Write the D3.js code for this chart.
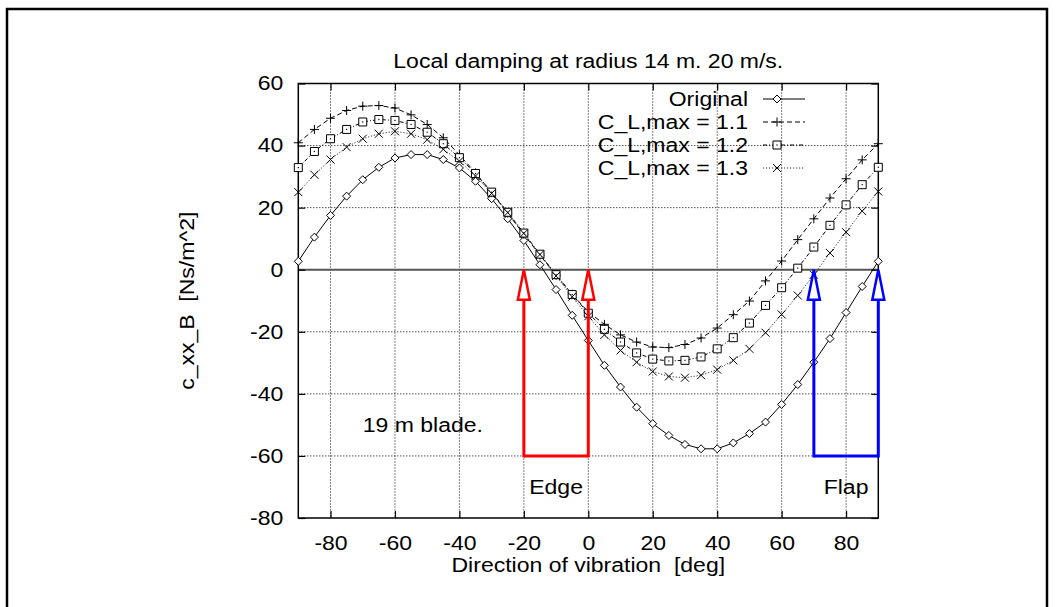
<!DOCTYPE html>
<html>
<head>
<meta charset="utf-8">
<script src="https://cdn.jsdelivr.net/npm/d3@7"></script>
<style>
  html, body { margin: 0; padding: 0; background: #fff; }
  svg { display: block; }
  text { font-family: "Liberation Sans", Arial, Helvetica, sans-serif; fill: #000; }
</style>
</head>
<body>
<script>
const width = 1056;
const height = 607;

// direction of vibration [deg]
const angles = [-90, -85, -80, -75, -70, -65, -60, -55, -50, -45, -40, -35, -30, -25, -20, -15, -10, -5,
  0, 5, 10, 15, 20, 25, 30, 35, 40, 45, 50, 55, 60, 65, 70, 75, 80, 85, 90];

// c_xx_B [Ns/m^2]
const original = [2.7, 10.5, 17.5, 23.7, 29.0, 33.0, 36.0, 37.1, 37.1, 35.5, 32.8, 28.5, 22.9, 16.4, 9.4, 1.6, -6.4, -14.7,
  -22.8, -30.8, -37.8, -44.3, -49.6, -53.4, -56.3, -57.7, -57.7, -55.8, -52.8, -49.1, -43.4, -37.0, -29.8, -22.2, -13.8, -5.4, 2.7];
const clmax11 = [40.9, 45.2, 48.8, 51.3, 52.7, 52.9, 52.1, 49.9, 46.8, 42.5, 37.0, 31.2, 24.8, 18.2, 11.4, 4.7, -1.8, -7.9,
  -13.6, -17.6, -21.0, -23.3, -24.9, -25.1, -24.1, -22.0, -18.8, -14.5, -10.1, -3.6, 2.8, 9.7, 16.4, 23.1, 29.3, 35.4, 40.6];
const clmax12 = [32.9, 38.1, 42.2, 45.2, 47.6, 48.4, 48.1, 46.8, 44.3, 40.6, 36.1, 31.0, 25.0, 18.5, 11.8, 5.0, -1.6, -8.0,
  -14.0, -19.2, -23.3, -26.8, -28.8, -29.4, -29.2, -28.1, -25.5, -21.9, -17.2, -11.5, -5.8, 0.5, 7.3, 14.3, 20.9, 27.4, 33.0];
const clmax13 = [25.0, 30.6, 35.5, 39.5, 42.2, 43.8, 44.6, 43.8, 41.9, 38.8, 35.0, 30.2, 24.6, 18.4, 11.7, 4.9, -2.0, -8.7,
  -15.0, -21.0, -26.0, -29.8, -32.8, -34.4, -34.8, -34.0, -32.2, -29.2, -25.5, -20.3, -14.4, -8.3, -1.6, 5.4, 12.1, 18.9, 25.2];

const seriesNames = ["Original", "C_L,max = 1.1", "C_L,max = 1.2", "C_L,max = 1.3"];
const xTicks = [-80, -60, -40, -20, 0, 20, 40, 60, 80];
const yTicks = [-80, -60, -40, -20, 0, 20, 40, 60];

// arrows: [x, yFrom, yTo]
const edgeArrows = [[-20, -60, 0], [0, -60, 0]];
const flapArrows = [[70, -60, 0], [90, -60, 0]];

const series = [
  { name: seriesNames[0], values: original, dash: null, stroke: "#000", marker: "diamond" },
  { name: seriesNames[1], values: clmax11, dash: "5,3", stroke: "#000", marker: "plus" },
  { name: seriesNames[2], values: clmax12, dash: "4,2,1,2", stroke: "#000", marker: "square" },
  { name: seriesNames[3], values: clmax13, dash: "1.2,1.8", stroke: "#333", marker: "cross" }
];

const plotL = 298.3, plotR = 878.3, plotT = 83.5, plotB = 518;

const x = d3.scaleLinear().domain([-90, 90]).range([plotL, plotR]);
const y = d3.scaleLinear().domain([-80, 60]).range([plotB, plotT]);

const svg = d3.select("body").append("svg")
  .attr("width", width)
  .attr("height", height);

// gnuplot's font looks wider than Liberation Sans: stretch glyphs a bit
const fontSize = "20px";
function stretch(sel) {
  sel.each(function () {
    const w = this.getComputedTextLength();
    if (w > 0) d3.select(this).attr("textLength", w * 1.15).attr("lengthAdjust", "spacingAndGlyphs");
  });
}

// outer frame of the page
svg.append("path")
  .attr("d", `M7,${height} L7,9 L1047,9 L1047,${height}`)
  .attr("fill", "none")
  .attr("stroke", "#000")
  .attr("stroke-width", 2.5);

const g = svg.append("g");

// grid
g.append("g").selectAll("line")
  .data(xTicks)
  .join("line")
  .attr("x1", d => x(d)).attr("x2", d => x(d))
  .attr("y1", plotT).attr("y2", plotB)
  .attr("stroke", "#000")
  .attr("stroke-width", 1)
  .attr("stroke-dasharray", "1,2");

g.append("g").selectAll("line")
  .data(yTicks.filter(d => d !== 0 && d > -80 && d < 60))
  .join("line")
  .attr("x1", plotL).attr("x2", plotR)
  .attr("y1", d => y(d)).attr("y2", d => y(d))
  .attr("stroke", "#000")
  .attr("stroke-width", 1)
  .attr("stroke-dasharray", "1,2");

// zero axis
g.append("line")
  .attr("x1", plotL).attr("x2", plotR)
  .attr("y1", y(0)).attr("y2", y(0))
  .attr("stroke", "#555")
  .attr("stroke-width", 2);

// axes with inward ticks, plain hyphen minus like gnuplot
const fmt = d => String(d);
const ax = g.append("g").attr("transform", `translate(0,${plotB})`)
  .call(d3.axisBottom(x).tickValues(xTicks).tickFormat(fmt).tickSize(-7).tickPadding(17.5));
const ay = g.append("g").attr("transform", `translate(${plotL},0)`)
  .call(d3.axisLeft(y).tickValues(yTicks).tickFormat(fmt).tickSize(-7).tickPadding(15));
const axTop = g.append("g").attr("transform", `translate(0,${plotT})`)
  .call(d3.axisTop(x).tickValues(xTicks).tickSize(-7).tickFormat(""));
const ayRight = g.append("g").attr("transform", `translate(${plotR},0)`)
  .call(d3.axisRight(y).tickValues(yTicks).tickSize(-7).tickFormat(""));

[ax, ay, axTop, ayRight].forEach(a => {
  a.select(".domain").remove();
  a.selectAll(".tick line").attr("stroke", "#000").attr("stroke-width", 1.2);
  a.selectAll("text").attr("font-size", fontSize).attr("font-family", "Liberation Sans, Arial, sans-serif").attr("fill", "#000");
});
stretch(ax.selectAll("text"));
stretch(ay.selectAll("text"));

// plot box
g.append("rect")
  .attr("x", plotL).attr("y", plotT)
  .attr("width", plotR - plotL).attr("height", plotB - plotT)
  .attr("fill", "none")
  .attr("stroke", "#000")
  .attr("stroke-width", 1.5);

// markers
function markerPath(type) {
  switch (type) {
    case "diamond": return "M0,-4L4,0L0,4L-4,0Z";
    case "plus": return "M-4.5,0L4.5,0M0,-4.5L0,4.5";
    case "square": return "M-4,-4L4,-4L4,4L-4,4Z";
    case "cross": return "M-4,-4L4,4M-4,4L4,-4";
  }
}

const line = d3.line()
  .x(d => x(d[0]))
  .y(d => y(d[1]));

series.forEach(s => {
  const pts = angles.map((a, i) => [a, s.values[i]]);
  const sg = g.append("g");
  sg.append("path")
    .datum(pts)
    .attr("d", line)
    .attr("fill", "none")
    .attr("stroke", s.stroke)
    .attr("stroke-width", 1)
    .attr("stroke-dasharray", s.dash);
  const marks = sg.selectAll(".pt")
    .data(pts)
    .join("g")
    .attr("transform", d => `translate(${x(d[0])},${y(d[1])})`);
  marks.append("path")
    .attr("d", markerPath(s.marker))
    .attr("fill", (s.marker === "diamond" || s.marker === "square") ? "#fff" : "none")
    .attr("stroke", "#000")
    .attr("stroke-width", 1);
  if (s.marker === "square") {
    marks.append("rect").attr("x", -0.6).attr("y", -0.6).attr("width", 1.2).attr("height", 1.2).attr("fill", "#000");
  }
});

// legend
const legend = g.append("g");
series.forEach((s, i) => {
  const ly = 99 + i * 23;
  legend.append("text")
    .attr("x", 748).attr("y", ly)
    .attr("dy", "0.35em")
    .attr("text-anchor", "end")
    .attr("font-size", fontSize)
    .text(s.name)
    .call(stretch);
  legend.append("line")
    .attr("x1", 763).attr("x2", 805)
    .attr("y1", ly).attr("y2", ly)
    .attr("stroke", s.stroke)
    .attr("stroke-width", 1)
    .attr("stroke-dasharray", s.dash);
  const m = legend.append("g").attr("transform", `translate(777,${ly})`);
  m.append("path")
    .attr("d", markerPath(s.marker))
    .attr("fill", (s.marker === "diamond" || s.marker === "square") ? "#fff" : "none")
    .attr("stroke", "#000");
  if (s.marker === "square") {
    m.append("rect").attr("x", -0.6).attr("y", -0.6).attr("width", 1.2).attr("height", 1.2).attr("fill", "#000");
  }
});

// arrows with empty heads
function drawArrows(list, color) {
  const ag = g.append("g");
  const xs = list.map(d => d[0]);
  ag.append("line")
    .attr("x1", x(d3.min(xs))).attr("x2", x(d3.max(xs)))
    .attr("y1", y(list[0][1])).attr("y2", y(list[0][1]))
    .attr("stroke", color).attr("stroke-width", 3);
  list.forEach(a => {
    const px = x(a[0]);
    const tip = y(a[2]);
    const base = tip + 30;
    ag.append("line")
      .attr("x1", px).attr("x2", px)
      .attr("y1", y(a[1]) + 1.5).attr("y2", base)
      .attr("stroke", color).attr("stroke-width", 3);
    ag.append("path")
      .attr("d", `M${px},${tip}L${px + 6},${base}L${px - 6},${base}Z`)
      .attr("fill", "#fff")
      .attr("stroke", color)
      .attr("stroke-width", 2.5)
      .attr("stroke-linejoin", "miter");
  });
}
drawArrows(edgeArrows, "#ff0000");
drawArrows(flapArrows, "#0000ff");

// labels
g.append("text")
  .attr("x", x(-10)).attr("y", y(-70)).attr("dy", "0.35em")
  .attr("text-anchor", "middle").attr("font-size", fontSize)
  .text("Edge").call(stretch);
g.append("text")
  .attr("x", x(80)).attr("y", y(-70)).attr("dy", "0.35em")
  .attr("text-anchor", "middle").attr("font-size", fontSize)
  .text("Flap").call(stretch);
g.append("text")
  .attr("x", x(-70)).attr("y", y(-50)).attr("dy", "0.35em")
  .attr("text-anchor", "start").attr("font-size", fontSize)
  .text("19 m blade.").call(stretch);

// titles
svg.append("text")
  .attr("x", (plotL + plotR) / 2).attr("y", 68)
  .attr("text-anchor", "middle").attr("font-size", fontSize)
  .text("Local damping at radius 14 m. 20 m/s.").call(stretch);
svg.append("text")
  .attr("x", (plotL + plotR) / 2).attr("y", 572)
  .attr("text-anchor", "middle").attr("font-size", fontSize)
  .style("white-space", "pre")
  .text("Direction of vibration  [deg]").call(stretch);
svg.append("text")
  .attr("transform", `translate(194,${(plotT + plotB) / 2}) rotate(-90)`)
  .attr("text-anchor", "middle").attr("font-size", fontSize)
  .style("white-space", "pre")
  .text("c_xx_B  [Ns/m^2]").call(stretch);
</script>
</body>
</html>
